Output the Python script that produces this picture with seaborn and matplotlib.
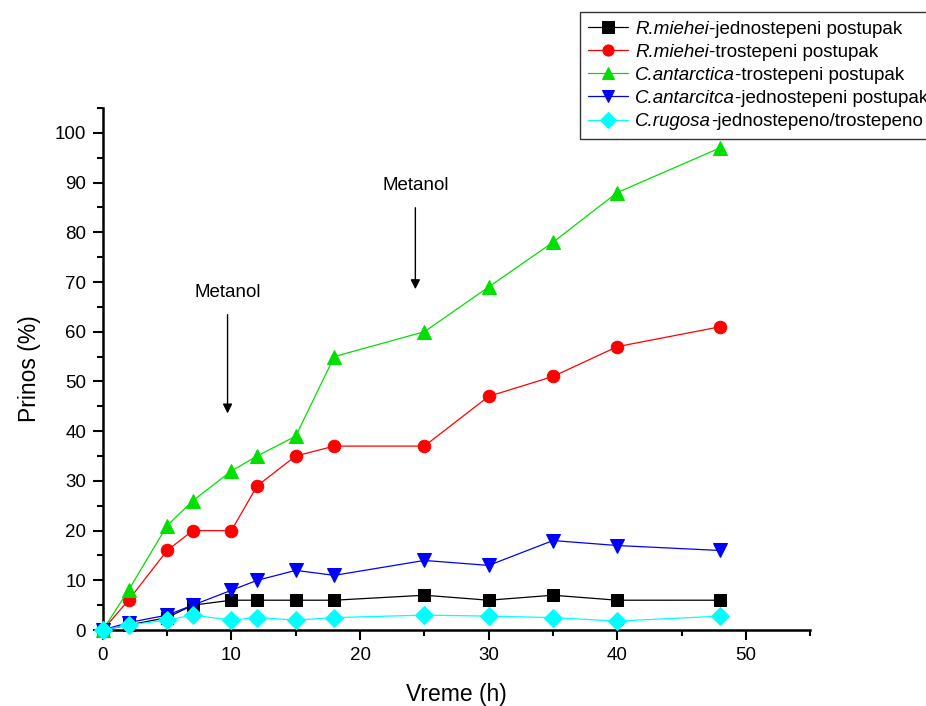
import matplotlib
matplotlib.use("Agg")
import matplotlib.pyplot as plt
import seaborn as sns
import pandas as pd
from matplotlib.ticker import MultipleLocator
from matplotlib.offsetbox import HPacker, TextArea

sns.set_theme(style="ticks")
plt.rcParams["font.family"] = ["Liberation Sans", "DejaVu Sans"]

# Reaction time (h)
vreme = [0, 2, 5, 7, 10, 12, 15, 18, 25, 30, 35, 40, 48]

# Yield (%) per lipase / procedure
rm_jedno = [0, 1, 2.5, 5, 6, 6, 6, 6, 7, 6, 7, 6, 6]
rm_tro = [0, 6, 16, 20, 20, 29, 35, 37, 37, 47, 51, 57, 61]
ca_tro = [0, 8, 21, 26, 32, 35, 39, 55, 60, 69, 78, 88, 97]
ca_jedno = [0, 1.5, 3, 5, 8, 10, 12, 11, 14, 13, 18, 17, 16]
cr_obe = [0, 1, 2, 3, 2, 2.5, 2, 2.5, 3, 2.8, 2.5, 1.8, 2.8]

# Legend labels: italic species name + regular procedure name
species = ["R.miehei", "R.miehei", "C.antarctica", "C.antarcitca", "C.rugosa"]
procedures = ["-jednostepeni postupak", "-trostepeni postupak", "-trostepeni postupak",
              "-jednostepeni postupak", "-jednostepeno/trostepeno"]

series = [rm_jedno, rm_tro, ca_tro, ca_jedno, cr_obe]
colors = ["#000000", "#ff0000", "#00e000", "#0000ff", "#00ffff"]
markers = ["s", "o", "^", "v", "D"]
msizes = [8, 9, 10, 10, 9]

fig = plt.figure(figsize=(9.26, 7.06), dpi=100)
ax = fig.add_axes([0.111, 0.1076, 0.764, 0.7394])

for vals, sp, pr, col, mk, ms in zip(series, species, procedures, colors, markers, msizes):
    df = pd.DataFrame({"Vreme": vreme, "Prinos": vals})
    sns.lineplot(data=df, x="Vreme", y="Prinos", ax=ax, color=col, marker=mk,
                 markersize=ms, markeredgecolor=col, linewidth=0.9, label=sp + pr,
                 clip_on=False, zorder=3)

ax.set_xlim(0, 55)
ax.set_ylim(0, 105)
ax.xaxis.set_major_locator(MultipleLocator(10))
ax.xaxis.set_minor_locator(MultipleLocator(5))
ax.yaxis.set_major_locator(MultipleLocator(10))
ax.yaxis.set_minor_locator(MultipleLocator(5))
ax.tick_params(which="major", length=7, width=1.5, labelsize=13.5, direction="out",
               color="black", labelcolor="black", pad=5)
ax.tick_params(which="minor", length=4, width=1.5, direction="out", color="black")
for side in ["top", "right"]:
    ax.spines[side].set_visible(False)
for side in ["left", "bottom"]:
    ax.spines[side].set_linewidth(1.8)
    ax.spines[side].set_color("black")

ax.set_xlabel("Vreme (h)", fontsize=16.5, color="black", labelpad=14)
ax.set_ylabel("Prinos (%)", fontsize=16.5, color="black", labelpad=10)

# Methanol additions
for x, y_top, y_tip in [(9.7, 64, 43), (24.3, 85.5, 68)]:
    ax.annotate("", xy=(x, y_tip), xytext=(x, y_top),
                arrowprops=dict(arrowstyle="-|>", color="black", lw=1.0, mutation_scale=14))
    ax.text(x, y_top + 2.2, "Metanol", ha="center", va="bottom", fontsize=13.5, color="black")

leg_fs = 13.5
leg = ax.legend(loc="upper left", bbox_to_anchor=(580 / 926, 1 - 12 / 706),
                bbox_transform=fig.transFigure, fontsize=leg_fs, frameon=True,
                fancybox=False, edgecolor="black", handlelength=2.1,
                handletextpad=0.4, borderpad=0.45, labelspacing=0.32,
                borderaxespad=0)
leg.get_frame().set_linewidth(1.0)
for h in leg.legend_handles:
    h.set_markersize(8)

# Swap each legend label for italic species + upright procedure text
rows = leg._legend_handle_box.get_children()[0].get_children()
for row, sp, pr in zip(rows, species, procedures):
    it = TextArea(sp, textprops=dict(fontsize=leg_fs, fontstyle="italic", color="black"))
    rm = TextArea(pr, textprops=dict(fontsize=leg_fs, color="black"))
    row._children[1] = HPacker(children=[it, rm], pad=0, sep=0, align="baseline")
leg._legend_box.set_figure(fig)

fig.savefig("out.png", dpi=100, facecolor="white")
